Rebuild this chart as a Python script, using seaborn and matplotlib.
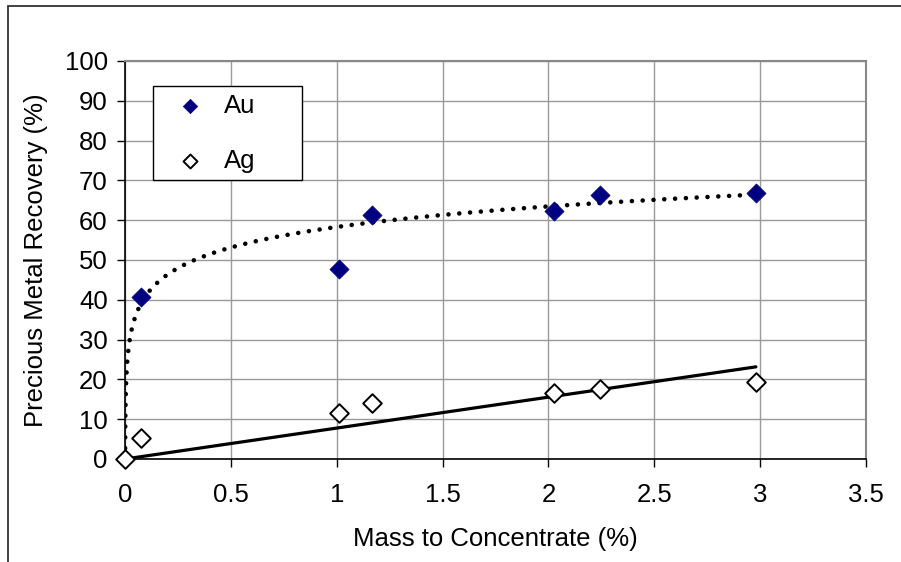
import numpy as np
import pandas as pd
import matplotlib
matplotlib.use("Agg")
import matplotlib.pyplot as plt
import seaborn as sns
from matplotlib.patches import Rectangle

# 数据
au_mass = [0.076, 1.01, 1.167, 2.024, 2.242, 2.98]
au_recovery = [40.7, 47.7, 61.3, 62.2, 66.3, 66.8]
ag_mass = [0.0, 0.076, 1.01, 1.167, 2.024, 2.242, 2.98]
ag_recovery = [0.0, 5.4, 11.6, 14.0, 16.6, 17.6, 19.4]

# 趋势线系数：Au 为 y = a*ln(x) + b，Ag 为过原点直线 y = k*x
au_trend_a = 7.45
au_trend_b = 58.3
au_trend_end = 3.0
ag_trend_k = 7.77
ag_trend_end = 2.98

x_ticks = [0, 0.5, 1, 1.5, 2, 2.5, 3, 3.5]
y_ticks = list(range(0, 101, 10))

sns.set_style("white")
plt.rcParams['font.family'] = ['Liberation Sans', 'DejaVu Sans']
for key in ['text.color', 'axes.labelcolor', 'xtick.color', 'ytick.color']:
    plt.rcParams[key] = 'black'
FS = 18.5

fig = plt.figure(figsize=(9.01, 5.62), dpi=100)
ax = fig.add_axes([125 / 901, 103 / 562, 741 / 901, 398 / 562])

# 外框（只有上边和左边可见）
fig.patches.append(Rectangle((8 / 901, -0.1), 1.2, (562 - 6) / 562 + 0.1,
                             transform=fig.transFigure, fill=False,
                             edgecolor='#333333', linewidth=1.3, zorder=0))

# 趋势线
x0 = np.exp(-au_trend_b / au_trend_a)
log_x = np.geomspace(x0, au_trend_end, 400)
log_df = pd.DataFrame({'x': log_x, 'y': au_trend_a * np.log(log_x) + au_trend_b})
sns.lineplot(data=log_df, x='x', y='y', ax=ax, color='black', linewidth=3.3,
             linestyle=(0, (0.01, 2.35)), dash_capstyle='round', zorder=3)

lin_df = pd.DataFrame({'x': [0.0, ag_trend_end], 'y': [0.0, ag_trend_k * ag_trend_end]})
sns.lineplot(data=lin_df, x='x', y='y', ax=ax, color='black', linewidth=2.3, zorder=3)

# 散点
sns.scatterplot(x=au_mass, y=au_recovery, ax=ax, marker='D', s=95,
                color='#000080', edgecolor='#000080', linewidth=0.5,
                label='Au', zorder=4, clip_on=False)
sns.scatterplot(x=ag_mass, y=ag_recovery, ax=ax, marker='D', s=90,
                facecolor='white', edgecolor='black', linewidth=1.4,
                label='Ag', zorder=4, clip_on=False)

ax.set_xlim(0, 3.5)
ax.set_ylim(0, 100)
ax.set_xticks(x_ticks)
ax.set_xticklabels([f'{t:g}' for t in x_ticks])
ax.set_yticks(y_ticks)
ax.grid(True, color='#999999', linewidth=1.0)
ax.set_axisbelow(True)

for side in ['top', 'right']:
    ax.spines[side].set_color('#888888')
    ax.spines[side].set_linewidth(1.5)
for side in ['left', 'bottom']:
    ax.spines[side].set_color('black')
    ax.spines[side].set_linewidth(1.2)

ax.tick_params(axis='both', direction='out', length=6, width=1, color='black',
               labelsize=FS, left=True, bottom=True)
ax.tick_params(axis='x', pad=11)
ax.tick_params(axis='y', pad=6.5)
ax.set_xlabel('Mass to Concentrate (%)', fontsize=FS, labelpad=15)
ax.set_ylabel('Precious Metal Recovery (%)', fontsize=FS, labelpad=12)

leg = ax.legend(loc='upper left', mode='expand',
                bbox_to_anchor=(28 / 741, 1 - 25 / 398, 149 / 741, 0.0),
                frameon=True, fancybox=False, framealpha=1, edgecolor='black',
                fontsize=FS, markerscale=0.75, labelspacing=1.2,
                handletextpad=0.15, borderpad=0.3, borderaxespad=0,
                handlelength=2.3)
leg.get_frame().set_linewidth(1.0)

fig.savefig('out.png', dpi=100)
